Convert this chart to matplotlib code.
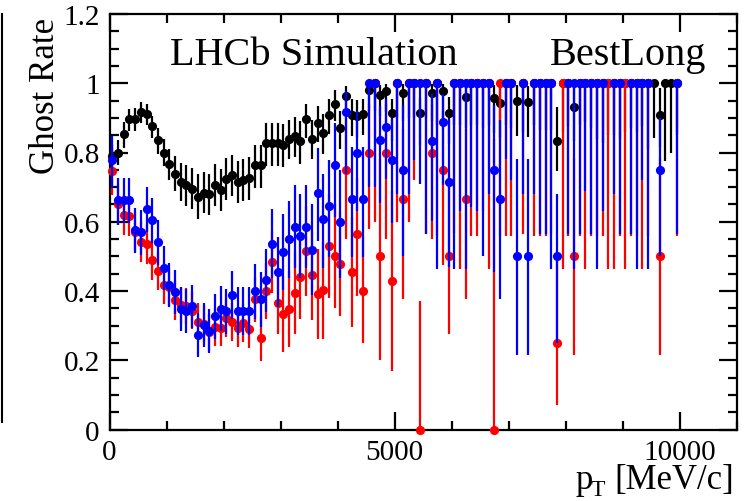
import numpy as np
import matplotlib
matplotlib.use("Agg")
import matplotlib.pyplot as plt
from matplotlib.lines import Line2D
from matplotlib.ticker import MultipleLocator

plt.rcParams['font.family'] = ['Liberation Serif', 'DejaVu Serif']

nan = np.nan

# 100 MeV bins from 0 to 10 GeV
bin_centres = [50 + 100 * i for i in range(100)]

# ghost rate per bin (nan = empty bin)
black_rate = [
    0.79, 0.80, 0.852, 0.896, 0.898, 0.917, 0.911, 0.876, 0.837, 0.80,
    0.766, 0.739, 0.715, 0.705, 0.696, 0.672, 0.684, 0.679, 0.707, 0.691,
    0.723, 0.734, 0.715, 0.72, 0.727, 0.763, 0.763, 0.826, 0.826, 0.826,
    0.823, 0.84, 0.848, 0.832, 0.896, 0.84, 0.884, 0.855, 0.908, 0.94,
    0.871, 0.963, 0.908, 0.906, 0.91, 0.98, 1.0, 0.965, 0.977, 0.913,
    1.0, 0.972, 1.0, 1.0, 0.913, 1.0, 0.972, 1.0, 0.977, 0.915,
    1.0, 1.0, 0.961, 1.0, 1.0, 1.0, 1.0, 0.956, 0.944, 1.0,
    1.0, 0.949, 1.0, 0.946, 1.0, 1.0, 1.0, 1.0, 0.832, 1.0,
    1.0, 0.932, 1.0, 1.0, 1.0, 1.0, 1.0, 1.0, 1.0, 1.0,
    1.0, 1.0, 1.0, 1.0, 1.0, 1.0, 0.907, 1.0, 1.0, 1.0]
black_lo = [
    0.035, 0.035, 0.04, 0.035, 0.035, 0.032, 0.033, 0.035, 0.04, 0.04,
    0.045, 0.05, 0.055, 0.06, 0.06, 0.065, 0.06, 0.06, 0.06, 0.06,
    0.06, 0.06, 0.06, 0.06, 0.065, 0.065, 0.065, 0.065, 0.065, 0.065,
    0.065, 0.06, 0.06, 0.065, 0.055, 0.06, 0.055, 0.06, 0.055, 0.05,
    0.06, 0.05, 0.06, 0.06, 0.06, 0.06, 0.08, 0.06, 0.06, 0.08,
    0.1, 0.08, 0.1, 0.1, 0.09, 0.1, 0.08, 0.12, 0.08, 0.09,
    0.12, 0.12, 0.09, 0.12, 0.12, 0.13, 0.12, 0.1, 0.1, 0.12,
    0.13, 0.1, 0.14, 0.1, 0.12, 0.134, 0.134, 0.134, 0.085, 0.14,
    0.123, 0.1, 0.12, 0.112, 0.13, 0.162, 0.174, 0.15, 0.15, 0.162,
    0.14, 0.13, 0.14, 0.123, 0.19, 0.158, 0.09, 0.225, 0.2, 0.15]
black_hi = [
    0.035, 0.035, 0.035, 0.03, 0.03, 0.028, 0.028, 0.03, 0.035, 0.04,
    0.045, 0.05, 0.055, 0.06, 0.06, 0.065, 0.06, 0.06, 0.06, 0.06,
    0.06, 0.06, 0.06, 0.06, 0.06, 0.06, 0.06, 0.06, 0.06, 0.06,
    0.06, 0.055, 0.055, 0.06, 0.045, 0.055, 0.05, 0.055, 0.045, 0.04,
    0.05, 0.03, 0.045, 0.045, 0.045, 0.02, 0, 0.03, 0.02, 0.04,
    0, 0.025, 0, 0, 0.045, 0, 0.025, 0, 0.02, 0.045,
    0, 0, 0.035, 0, 0, 0, 0, 0.04, 0.045, 0,
    0, 0.045, 0, 0.045, 0, 0, 0, 0, 0.1, 0,
    0, 0.06, 0, 0, 0, 0, 0, 0, 0, 0,
    0, 0, 0, 0, 0, 0, 0.08, 0, 0, 0]

blue_rate = [
    0.777, 0.662, 0.662, 0.662, 0.575, 0.57, 0.636, 0.604, 0.541, 0.466,
    0.418, 0.397, 0.349, 0.342, 0.356, 0.274, 0.303, 0.284, 0.328, 0.349,
    0.342, 0.389, 0.342, 0.342, 0.342, 0.399, 0.376, 0.431, 0.537, 0.455,
    0.513, 0.549, 0.586, 0.559, 0.586, 0.52, 0.684, 0.607, 0.647, 0.765,
    0.599, 0.917, 0.667, 0.80, 0.667, 1.0, 1.0, 0.835, 0.874, 0.777,
    1.0, 0.75, 1.0, 1.0, 1.0, 1.0, 0.833, 1.0, 0.888, 0.715,
    1.0, 1.0, 1.0, 1.0, 1.0, 1.0, 1.0, 0.75, 0.667, 1.0,
    1.0, 0.5, 1.0, 0.5, 1.0, 1.0, 1.0, 1.0, 0.5, nan,
    1.0, 1.0, 1.0, 1.0, 1.0, 1.0, 1.0, nan, 1.0, 1.0,
    nan, 1.0, 1.0, 1.0, 1.0, nan, 0.75, nan, nan, 1.0]
blue_lo = [
    0.08, 0.07, 0.065, 0.065, 0.065, 0.065, 0.065, 0.065, 0.065, 0.063,
    0.063, 0.063, 0.063, 0.063, 0.063, 0.063, 0.063, 0.063, 0.065, 0.065,
    0.065, 0.07, 0.07, 0.07, 0.07, 0.08, 0.08, 0.09, 0.1, 0.1,
    0.11, 0.11, 0.12, 0.12, 0.12, 0.13, 0.14, 0.14, 0.15, 0.15,
    0.16, 0.18, 0.17, 0.17, 0.17, 0.3, 0.3, 0.18, 0.15, 0.18,
    0.32, 0.25, 0.32, 0.223, 0.29, 0.436, 0.23, 0.536, 0.183, 0.245,
    0.536, 0.37, 0.536, 0.357, 0.37, 0.5, 0.32, 0.295, 0.29, 0.218,
    0.28, 0.284, 0.32, 0.284, 0.32, 0.436, 0.436, 0.536, 0.25, 0,
    0.436, 0.536, 0.436, 0.31, 0.436, 0.536, 0.37, 0, 0.32, 0.436,
    0, 0.436, 0.536, 0.28, 0.536, 0, 0.25, 0, 0, 0.436]
blue_hi = [
    0.07, 0.065, 0.065, 0.065, 0.065, 0.065, 0.065, 0.065, 0.065, 0.063,
    0.063, 0.063, 0.063, 0.063, 0.063, 0.063, 0.063, 0.063, 0.065, 0.065,
    0.065, 0.07, 0.07, 0.07, 0.07, 0.08, 0.08, 0.09, 0.1, 0.1,
    0.11, 0.11, 0.12, 0.12, 0.12, 0.13, 0.13, 0.13, 0.13, 0.12,
    0.15, 0.06, 0.15, 0.12, 0.15, 0, 0, 0.1, 0.08, 0.12,
    0, 0.186, 0, 0, 0, 0, 0.137, 0, 0.08, 0.182,
    0, 0, 0, 0, 0, 0, 0, 0.186, 0.226, 0,
    0, 0.282, 0, 0.282, 0, 0, 0, 0, 0.18, 0,
    0, 0, 0, 0, 0, 0, 0, 0, 0, 0,
    0, 0, 0, 0, 0, 0, 0.15, 0, 0, 0]

red_rate = [
    0.747, 0.65, 0.62, 0.617, 0.57, 0.541, 0.537, 0.489, 0.457, 0.418,
    0.411, 0.373, 0.359, 0.357, 0.344, 0.312, 0.305, 0.281, 0.296, 0.294,
    0.322, 0.31, 0.294, 0.309, 0.29, 0.377, 0.264, 0.40, 0.484, 0.366,
    0.334, 0.349, 0.395, 0.44, 0.517, 0.447, 0.392, 0.402, 0.53, 0.501,
    0.477, 0.749, 0.455, 0.566, 0.40, 0.80, 1.0, 0.501, 0.80, 0.429,
    1.0, 0.667, 1.0, 1.0, 0.0, 1.0, 0.80, 1.0, 0.75, 0.501,
    1.0, 1.0, 0.667, 1.0, 1.0, 1.0, 1.0, 0.0, 1.0, 1.0,
    1.0, nan, 1.0, nan, 1.0, 1.0, 1.0, 1.0, 0.25, 1.0,
    1.0, 0.5, 1.0, 1.0, 1.0, 1.0, 1.0, 1.0, 1.0, 1.0,
    1.0, 1.0, 1.0, 1.0, 1.0, nan, 0.5, nan, nan, 1.0]
red_lo = [
    0.07, 0.06, 0.058, 0.058, 0.058, 0.058, 0.058, 0.058, 0.055, 0.055,
    0.055, 0.055, 0.053, 0.053, 0.053, 0.053, 0.053, 0.053, 0.053, 0.053,
    0.055, 0.055, 0.055, 0.055, 0.055, 0.065, 0.065, 0.08, 0.09, 0.09,
    0.11, 0.11, 0.12, 0.12, 0.13, 0.13, 0.13, 0.14, 0.15, 0.15,
    0.15, 0.2, 0.16, 0.18, 0.15, 0.22, 0.4, 0.3, 0.25, 0.26,
    0.4, 0.29, 0.4, 0.28, 0, 0.436, 0.25, 0.44, 0.275, 0.225,
    0.433, 0.536, 0.29, 0.44, 0.44, 0.37, 0.536, 0, 0.44, 0.44,
    0.44, 0, 0.436, 0, 0.44, 0.44, 0.44, 0.436, 0.18, 0.536,
    0.44, 0.284, 0.44, 0.536, 0.44, 0.44, 0.44, 0.536, 0.536, 0.44,
    0.536, 0.44, 0.44, 0.536, 0.44, 0, 0.284, 0, 0, 0.44]
red_hi = [
    0.065, 0.06, 0.058, 0.058, 0.058, 0.058, 0.058, 0.058, 0.055, 0.055,
    0.055, 0.055, 0.053, 0.053, 0.053, 0.053, 0.053, 0.053, 0.053, 0.053,
    0.055, 0.055, 0.055, 0.055, 0.055, 0.065, 0.065, 0.08, 0.09, 0.09,
    0.11, 0.11, 0.12, 0.12, 0.13, 0.13, 0.13, 0.14, 0.15, 0.15,
    0.15, 0.15, 0.16, 0.16, 0.16, 0.14, 0, 0.28, 0.14, 0.26,
    0, 0.2, 0, 0, 0.37, 0, 0.14, 0, 0.17, 0.24,
    0, 0, 0.2, 0, 0, 0, 0, 0.84, 0, 0,
    0, 0, 0, 0, 0, 0, 0, 0, 0.25, 0,
    0, 0.284, 0, 0, 0, 0, 0, 0, 0, 0,
    0, 0, 0, 0, 0, 0, 0.284, 0, 0, 0]

fig = plt.figure(figsize=(7.56, 5.02), dpi=100)
ax = fig.add_axes([109.5 / 756, 71.3 / 502, 627 / 756, 415.8 / 502])

series = [
    (black_rate, black_lo, black_hi, 'black'),
    (red_rate, red_lo, red_hi, 'red'),
    (blue_rate, blue_lo, blue_hi, 'blue'),
]
for z, (rate, lo, hi, col) in enumerate(series):
    ax.errorbar(bin_centres, rate, yerr=[lo, hi], fmt='o', color=col,
                ms=6.6, mew=0, elinewidth=1.6, capsize=2.2, capthick=1.6,
                zorder=2 + z, clip_on=False)

ax.set_xlim(0, 11000)
ax.set_ylim(0, 1.2)
ax.xaxis.set_major_locator(MultipleLocator(5000))
ax.xaxis.set_minor_locator(MultipleLocator(1000))
ax.yaxis.set_major_locator(MultipleLocator(0.2))
ax.yaxis.set_minor_locator(MultipleLocator(0.05))
ax.yaxis.set_major_formatter(plt.FuncFormatter(lambda v, p: f'{v:g}'))
ax.tick_params(which='both', direction='in', width=1.6, labelsize=21,
               top=True, right=True)
ax.tick_params(which='major', length=13)
ax.tick_params(which='minor', length=6.5)
ax.tick_params(axis='x', pad=7)
ax.tick_params(axis='y', pad=7)
for s in ax.spines.values():
    s.set_linewidth(1.6)

fig.text(45 / 756, 1 - 18 / 502, 'Ghost Rate', rotation=90, ha='center',
         va='top', fontsize=25)

# axis title p_T [MeV/c], subscript set lower as in ROOT
fig.text(575 / 756, 1 - 489 / 502, 'p', ha='left', va='baseline', fontsize=25)
fig.text(591 / 756, 1 - 496 / 502, 'T', ha='left', va='baseline', fontsize=17)
fig.text(734 / 756, 1 - 489 / 502, '[MeV/c]', ha='right', va='baseline',
         fontsize=25)

fig.text(170 / 756, 1 - 65 / 502, 'LHCb Simulation', ha='left',
         va='baseline', fontsize=29)
fig.text(550 / 756, 1 - 65.5 / 502, 'BestLong', ha='left',
         va='baseline', fontsize=29)

# thin frame line on the left edge of the canvas
fig.add_artist(Line2D([1.5 / 756, 1.5 / 756], [1 - 15 / 502, 1 - 423 / 502],
                      color='black', lw=1.5))

fig.savefig('out.png', dpi=100)
